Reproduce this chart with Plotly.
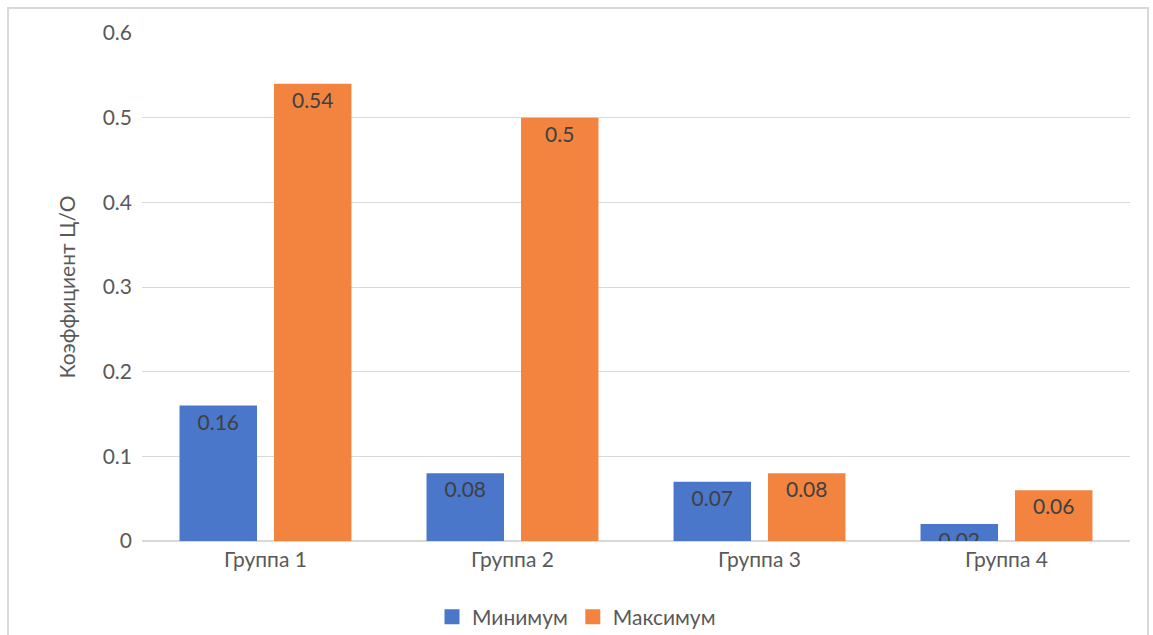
import plotly.graph_objects as go

categories = ["Группа 1", "Группа 2", "Группа 3", "Группа 4"]
min_values = [0.16, 0.08, 0.07, 0.02]
max_values = [0.54, 0.5, 0.08, 0.06]
min_labels = ["0.16", "0.08", "0.07", "0.02"]
max_labels = ["0.54", "0.5", "0.08", "0.06"]
tick_vals = [0, 0.1, 0.2, 0.3, 0.4, 0.5, 0.6]
tick_text = ["0", "0.1", "0.2", "0.3", "0.4", "0.5", "0.6"]

FONT = "Lato, Carlito, 'Open Sans', sans-serif"
SIZE = 21
GRID = "#d9d9d9"
TXT = "#595959"
BLUE = "#4a77c9"
ORANGE = "#f28440"

fig = go.Figure()
for name, vals, labels, color in [("Минимум", min_values, min_labels, BLUE),
                                  ("Максимум", max_values, max_labels, ORANGE)]:
    fig.add_trace(go.Bar(
        name=name, x=categories, y=vals, legendgroup=name, showlegend=False,
        text=labels, textposition="inside", insidetextanchor="end",
        textfont=dict(family=FONT, size=SIZE, color="#404040"),
        marker=dict(color=color, line=dict(width=0)),
        hoverinfo="x+y",
    ))

# legend entries with larger square swatches
for name, color in [("Минимум", BLUE), ("Максимум", ORANGE)]:
    fig.add_trace(go.Scatter(
        name=name, x=[None], y=[None], mode="markers", legendgroup=name,
        marker=dict(symbol="square", size=15, color=color, line=dict(width=0)),
        hoverinfo="skip",
    ))

fig.update_layout(
    width=1153, height=635,
    margin=dict(l=142, r=23, t=33, b=94),
    paper_bgcolor="white", plot_bgcolor="white",
    font=dict(family=FONT, size=SIZE, color=TXT),
    barmode="group", bargap=0.235, bargroupgap=0.18,
    uniformtext=dict(minsize=SIZE, mode="show"),
    showlegend=True,
    legend=dict(orientation="h", xref="container", x=0.5, xanchor="center",
                yref="container", y=1 - 617 / 635, yanchor="middle",
                itemsizing="trace", itemwidth=30, tracegroupgap=0,
                font=dict(family=FONT, size=SIZE, color=TXT),
                traceorder="normal"),
    xaxis=dict(showgrid=False, showline=False, ticks="", zeroline=False,
               ticklabelstandoff=4,
               tickfont=dict(family=FONT, size=SIZE, color=TXT)),
    yaxis=dict(range=[0, 0.6], tickvals=tick_vals, ticktext=tick_text,
               showgrid=True, gridcolor=GRID, gridwidth=1,
               zeroline=True, zerolinecolor=GRID, zerolinewidth=2,
               showline=False, ticks="", ticklabelstandoff=9,
               tickfont=dict(family=FONT, size=SIZE, color=TXT),
               title=dict(text="Коэффициент Ц/О", standoff=21,
                          font=dict(family=FONT, size=SIZE, color=TXT))),
    shapes=[dict(type="rect", xref="paper", yref="paper",
                 x0=(8 - 142) / 988, x1=(1148 - 142) / 988,
                 y0=(541 - 660) / 508, y1=(541 - 8) / 508,
                 line=dict(color=GRID, width=2), fillcolor="rgba(0,0,0,0)", layer="below")],
)

fig.write_html("out.html")
